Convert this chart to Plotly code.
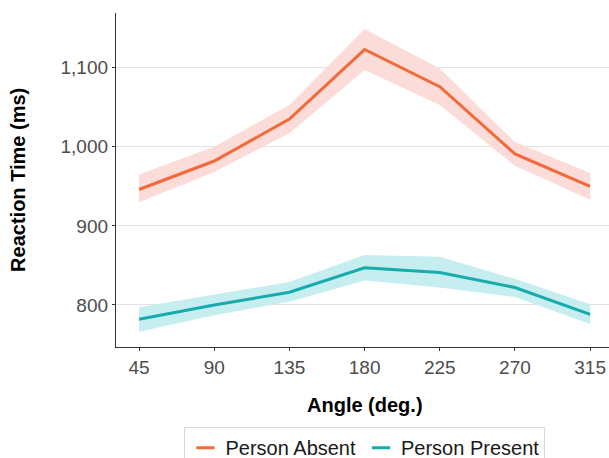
import plotly.graph_objects as go

angles = [45, 90, 135, 180, 225, 270, 315]

absent_mean = [946, 982, 1035, 1123, 1076, 991, 950]
absent_low = [930, 968, 1017, 1097, 1053, 976, 933]
absent_high = [965, 1000, 1053, 1149, 1099, 1006, 967]

present_mean = [782, 800, 816, 847, 841, 822, 788]
present_low = [766, 787, 804, 831, 822, 810, 776]
present_high = [797, 813, 829, 863, 861, 833, 801]

y_ticks = [800, 900, 1000, 1100]
y_tick_labels = ["800", "900", "1,000", "1,100"]

ORANGE = "#F26A3A"
ORANGE_FILL = "#FBDCD8"
TEAL = "#17ABAE"
TEAL_FILL = "#C6EEF0"
FONT = "Liberation Sans, Arial, Helvetica, sans-serif"

fig = go.Figure()

def ribbon(low, high, fill):
    fig.add_trace(go.Scatter(x=angles, y=high, mode="lines", line=dict(width=0),
                             showlegend=False, hoverinfo="skip"))
    fig.add_trace(go.Scatter(x=angles, y=low, mode="lines", line=dict(width=0),
                             fill="tonexty", fillcolor=fill, showlegend=False,
                             hoverinfo="skip"))

ribbon(absent_low, absent_high, ORANGE_FILL)
ribbon(present_low, present_high, TEAL_FILL)

fig.add_trace(go.Scatter(x=angles, y=absent_mean, mode="lines",
                         line=dict(color=ORANGE, width=3), showlegend=False))
fig.add_trace(go.Scatter(x=angles, y=present_mean, mode="lines",
                         line=dict(color=TEAL, width=3), showlegend=False))

# legend entries (short dash symbols)
for name, col in [("Person Absent", ORANGE), ("Person Present", TEAL)]:
    fig.add_trace(go.Scatter(x=[None], y=[None], mode="markers", name=name,
                             marker=dict(symbol="line-ew-open", size=13, color=col,
                                         line=dict(color=col, width=3))))

fig.update_layout(
    width=609, height=458,
    margin=dict(l=116, r=0, t=13, b=111, autoexpand=False),
    paper_bgcolor="white", plot_bgcolor="white",
    font=dict(family=FONT, size=19, color="#4D4D4D"),
    showlegend=True,
    legend=dict(orientation="h", x=0.505, xanchor="center", y=-0.24, yanchor="top",
                bordercolor="#D9D9D9", borderwidth=1, traceorder="normal",
                font=dict(family=FONT, size=20, color="#1A1A1A"),
                itemwidth=30, tracegroupgap=0),
    xaxis=dict(range=[31.2, 326.3], tickmode="array", tickvals=angles,
               ticktext=[str(a) for a in angles], showgrid=False, zeroline=False,
               showline=True, linecolor="#333333", linewidth=1.3, automargin=False,
               ticks="outside", ticklen=3, tickcolor="#333333",
               tickfont=dict(size=19, color="#4D4D4D")),
    yaxis=dict(range=[746.8, 1169.2], tickmode="array", tickvals=y_ticks,
               ticktext=y_tick_labels, showgrid=True, gridcolor="#E3E3E3",
               gridwidth=1, zeroline=False, showline=True, linecolor="#333333",
               linewidth=1.3, ticks="outside", ticklen=3, tickcolor="#333333",
               automargin=False, tickfont=dict(size=19, color="#4D4D4D")),
    annotations=[
        dict(text="<b>Angle (deg.)</b>", xref="paper", yref="paper", x=0.505, y=-0.175,
             xanchor="center", yanchor="middle", showarrow=False,
             font=dict(family=FONT, size=20, color="black")),
        dict(text="<b>Reaction Time (ms)</b>", xref="paper", yref="paper", x=-0.199, y=0.5,
             xanchor="center", yanchor="middle", textangle=-90, showarrow=False,
             font=dict(family=FONT, size=20, color="black")),
    ],
)

fig.write_html("out.html", config={"displayModeBar": False},
               post_script="document.body.style.margin='0';document.body.style.padding='0';")
